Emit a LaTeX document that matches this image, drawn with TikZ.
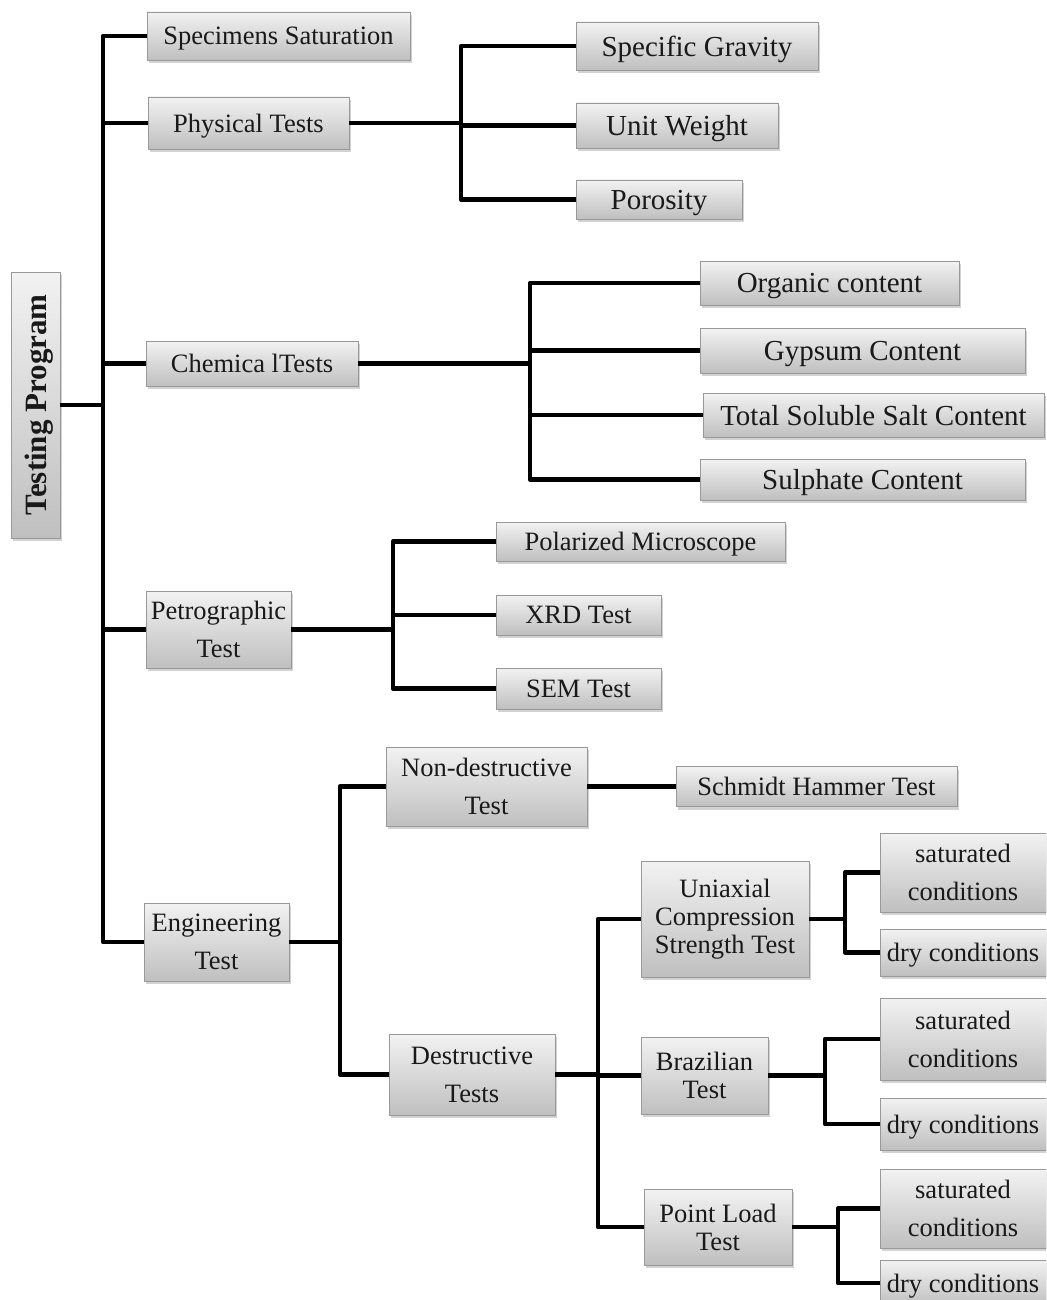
\documentclass[tikz,border=0pt]{standalone}
\usepackage{fontspec}
\setmainfont{Liberation Serif}
\usetikzlibrary{shadows}
\tikzset{
  box/.style={draw=black!40, line width=0.8pt, top color=black!5, bottom color=black!25,
    drop shadow={shadow xshift=2pt, shadow yshift=-3pt, opacity=0.35},
    inner sep=0pt, align=center, text=black!90, font=\fontsize{26.5}{38}\selectfont},
  one/.style={text depth=0pt},
  tight/.style={font=\fontsize{26.5}{28}\selectfont},
  big/.style={font=\fontsize{29}{34}\selectfont},
  conn/.style={line width=4.3pt, line join=round, black}
}
\begin{document}
\begin{tikzpicture}[x=1pt,y=-1pt]
\useasboundingbox[fill=white] (0,0) rectangle (1046,1300);
\begin{scope}
\clip (0,0) rectangle (1046,1300);
% root
\node[box, one, rotate=90, minimum width=266pt, minimum height=49pt, font=\fontsize{31}{34}\selectfont\bfseries] (TP) at (35.5,405) {Testing Program};
% level 1
\node[box, one, minimum width=263pt, minimum height=48pt] (SS) at (278.5,36) {Specimens Saturation};
\node[box, one, minimum width=201pt, minimum height=52pt] (PT) at (248.5,123) {Physical Tests};
\node[box, one, minimum width=212pt, minimum height=45pt] (CT) at (252,363.5) {Chemica lTests};
\node[box, minimum width=145pt, minimum height=77pt] (PG) at (218.5,629.5) {Petrographic\\Test};
\node[box, minimum width=145pt, minimum height=78pt] (ET) at (216.5,942) {Engineering\\Test};
% physical
\node[box, one, big, minimum width=242pt, minimum height=48pt] (SG) at (697,46) {Specific Gravity};
\node[box, one, big, minimum width=202pt, minimum height=45pt] (UW) at (677,125.5) {Unit Weight};
\node[box, one, big, minimum width=166pt, minimum height=39pt] (PO) at (659,199.5) {Porosity};
% chemical
\node[box, one, big, minimum width=259pt, minimum height=44pt] (OC) at (829.5,283) {Organic content};
\node[box, one, big, minimum width=325pt, minimum height=45pt] (GC) at (862.5,350.5) {Gypsum Content};
\node[box, one, big, minimum width=341pt, minimum height=44pt] (TS) at (873.5,415) {Total Soluble Salt Content};
\node[box, one, big, minimum width=325pt, minimum height=41pt] (SC) at (862.5,479.5) {Sulphate Content};
% petrographic
\node[box, one, minimum width=289pt, minimum height=39pt] (PM) at (640.5,541.5) {Polarized Microscope};
\node[box, one, minimum width=165pt, minimum height=40pt] (XRD) at (578.5,615) {XRD Test};
\node[box, one, minimum width=165pt, minimum height=41pt] (SEM) at (578.5,688.5) {SEM Test};
% engineering
\node[box, minimum width=201pt, minimum height=79pt] (ND) at (486.5,786.5) {Non-destructive\\Test};
\node[box, one, minimum width=281pt, minimum height=40pt] (SH) at (816.5,786.5) {Schmidt Hammer Test};
\node[box, minimum width=166pt, minimum height=81pt] (DT) at (472,1074.5) {Destructive\\Tests};
\node[box, tight, minimum width=168pt, minimum height=116pt] (UCS) at (725,919) {Uniaxial\\Compression\\Strength Test};
\node[box, tight, minimum width=127pt, minimum height=77pt] (BT) at (704.5,1075.5) {Brazilian\\Test};
\node[box, tight, minimum width=148pt, minimum height=76pt] (PL) at (718,1227) {Point Load\\Test};
\node[box, minimum width=166pt, minimum height=79pt] (S1) at (963,872.5) {saturated\\conditions};
\node[box, one, minimum width=166pt, minimum height=47pt] (D1) at (963,952.5) {dry conditions};
\node[box, minimum width=166pt, minimum height=82pt] (S2) at (963,1039) {saturated\\conditions};
\node[box, one, minimum width=166pt, minimum height=52pt] (D2) at (963,1124) {dry conditions};
\node[box, minimum width=166pt, minimum height=79pt] (S3) at (963,1208.5) {saturated\\conditions};
\node[box, one, minimum width=166pt, minimum height=46pt] (D3) at (963,1283) {dry conditions};
% junctions
\coordinate (jTP) at (103,405);
\coordinate (jPT) at (461,123);
\coordinate (jCT) at (530,363.5);
\coordinate (jPG) at (393,629.5);
\coordinate (jET) at (340,942);
\coordinate (jDT) at (598,1074.5);
\coordinate (jUCS) at (845,919);
\coordinate (jBT) at (825,1075.5);
\coordinate (jPL) at (838,1227);
% connectors
\foreach \c in {SS,PT,CT,PG,ET} \draw[conn] (TP.south) -- (jTP) |- (\c.west);
\foreach \c in {SG,UW,PO} \draw[conn] (PT.east) -- (jPT) |- (\c.west);
\foreach \c in {OC,GC,TS,SC} \draw[conn] (CT.east) -- (jCT) |- (\c.west);
\foreach \c in {PM,XRD,SEM} \draw[conn] (PG.east) -- (jPG) |- (\c.west);
\foreach \c in {ND,DT} \draw[conn] (ET.east) -- (jET) |- (\c.west);
\draw[conn] (ND.east) -- (ND.east -| SH.west);
\foreach \c in {UCS,BT,PL} \draw[conn] (DT.east) -- (jDT) |- (\c.west);
\foreach \c in {S1,D1} \draw[conn] (UCS.east) -- (jUCS) |- (\c.west);
\foreach \c in {S2,D2} \draw[conn] (BT.east) -- (jBT) |- (\c.west);
\foreach \c in {S3,D3} \draw[conn] (PL.east) -- (jPL) |- (\c.west);
\end{scope}
\end{tikzpicture}
\end{document}
